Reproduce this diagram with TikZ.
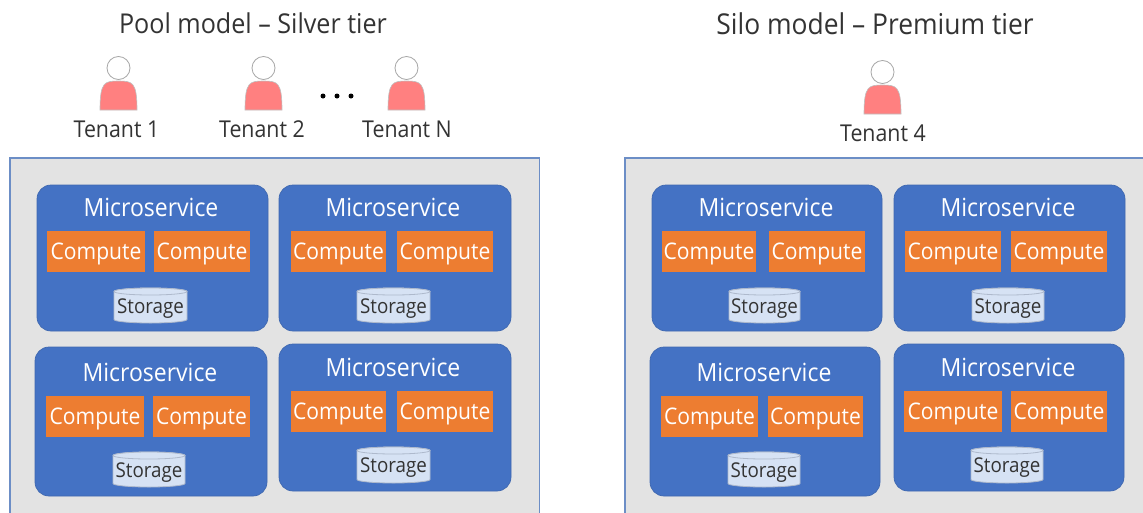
\documentclass[tikz,border=0pt]{standalone}
\usepackage{fontspec}
\setmainfont[FakeStretch=0.92]{Open Sans}
\definecolor{panelfill}{HTML}{E3E3E3}
\definecolor{panelline}{HTML}{6C8EC6}
\definecolor{msblue}{HTML}{4472C4}
\definecolor{msline}{HTML}{3F68B0}
\definecolor{comporange}{HTML}{ED7D31}
\definecolor{storefill}{HTML}{D6E2F4}
\definecolor{storeline}{HTML}{AEB9CC}
\definecolor{bodypink}{HTML}{FF8080}
\definecolor{inkdark}{HTML}{333333}
\tikzset{
  panel/.style={draw=panelline,fill=panelfill,line width=1.2pt},
  msbox/.style={draw=msline,fill=msblue,line width=.7pt,rounded corners=14pt},
  mstitle/.style={text=white,font=\fontsize{25}{28}\selectfont,inner sep=0pt},
  compbox/.style={fill=comporange,text=white,font=\fontsize{22.9}{26}\selectfont,inner sep=0pt},
  storetext/.style={text=inkdark,font=\fontsize{20.4}{23}\selectfont,inner sep=0pt},
  storeshape/.style={draw=storeline,fill=storefill,line width=.8pt},
  headshape/.style={draw=black!35,fill=white,line width=.8pt},
  bodyshape/.style={draw=black!25,fill=bodypink,line width=.6pt},
  tenantlabel/.style={text=inkdark,font=\fontsize{23.2}{26}\selectfont,inner sep=0pt},
  modeltitle/.style={text=inkdark,font=\fontsize{27.3}{31}\selectfont,inner sep=0pt},
  modeltitlewide/.style={text=inkdark,font=\fontsize{28.7}{32}\selectfont,inner sep=0pt},
  dotmark/.style={circle,fill=black,inner sep=0pt,minimum size=5pt}
}
\newcommand{\cmpt}[5]{%
  \pgfmathsetmacro{\myw}{(#4)-(#2)}\pgfmathsetmacro{\myh}{(#5)-(#3)}%
  \pgfmathsetmacro{\cx}{((#2)+(#4))/2}\pgfmathsetmacro{\cy}{((#3)+(#5))/2}%
  \node[compbox,minimum width=\myw pt,minimum height=\myh pt] (#1) at (\cx,\cy) {\raisebox{-8pt}[0pt][0pt]{Compute}};}
\newcommand{\stor}[5]{%
  \pgfmathsetmacro{\rx}{((#4)-(#2))/2}\pgfmathsetmacro{\cx}{((#2)+(#4))/2}\pgfmathsetmacro{\tcy}{(#3)+3.5}\pgfmathsetmacro{\bcy}{(#5)-3.5}\pgfmathsetmacro{\tly}{(#3)/2+(#5)/2+3}%
  \draw[storeshape] (#2,\tcy) -- (#2,\bcy) arc[start angle=180,end angle=360,x radius=\rx,y radius=-3.5] -- (#4,\tcy) arc[start angle=0,end angle=180,x radius=\rx,y radius=-3.5] -- cycle;
  \draw[storeshape] (#2,\tcy) arc[start angle=180,end angle=360,x radius=\rx,y radius=-3.5] arc[start angle=0,end angle=180,x radius=\rx,y radius=-3.5];
  \node[storetext] (#1) at (\cx,\tly) {Storage};}
\newcommand{\ms}[5]{%
  \pgfmathsetmacro{\myw}{(#4)-(#2)}\pgfmathsetmacro{\myh}{(#5)-(#3)}%
  \pgfmathsetmacro{\cx}{((#2)+(#4))/2}\pgfmathsetmacro{\cy}{((#3)+(#5))/2}%
  \node[msbox,minimum width=\myw pt,minimum height=\myh pt,inner sep=0pt] (#1) at (\cx,\cy) {};}
\newcommand{\person}[3]{%
  \pgfmathsetmacro{\ytop}{(#3)+13}\pgfmathsetmacro{\ybot}{(#3)+42}%
  \pgfmathsetmacro{\ycc}{(#3)+14}%
  \pgfmathsetmacro{\xl}{(#2)-18.5}\pgfmathsetmacro{\xr}{(#2)+18.5}%
  \pgfmathsetmacro{\xla}{(#2)-14}\pgfmathsetmacro{\xra}{(#2)+14}%
  \draw[bodyshape] (\xl,\ybot) .. controls (\xl,\ycc) and (\xla,\ytop) .. (#2,\ytop) .. controls (\xra,\ytop) and (\xr,\ycc) .. (\xr,\ybot) -- cycle;
  \node[headshape,circle,minimum size=23pt,inner sep=0pt] (#1) at (#2,#3) {};}
\begin{document}
\begin{tikzpicture}[x=1pt,y=-1pt]
\useasboundingbox (0,0) rectangle (1143,512);
\fill[white] (0,0) rectangle (1143,512);
\draw[panel] (10,158) rectangle (539.5,514);
\draw[panel] (625,158) rectangle (1145,514);
\node[modeltitle] (tl) at (253,23) {Pool model – Silver tier};
\node[modeltitlewide] (tr) at (875,24) {Silo model – Premium tier};
\person{p1}{118.5}{68}
\person{p2}{263.5}{68}
\person{pn}{406.5}{68}
\person{p4}{882.5}{72}
\node[tenantlabel] (l1) at (116.5,129) {Tenant 1};
\node[tenantlabel] (l2) at (262,129) {Tenant 2};
\node[tenantlabel] (ln) at (407,129) {Tenant N};
\node[tenantlabel] (l4) at (883,133) {Tenant 4};
\node[dotmark] (d1) at (323,96) {};
\node[dotmark] (d2) at (337,96) {};
\node[dotmark] (d3) at (351,96) {};
\ms{a}{37}{185}{268}{331}
\node[mstitle] (at) at (151,207) {Microservice};
\cmpt{a1}{47}{231}{145}{272}\cmpt{a2}{154}{231}{250}{272}
\stor{as}{114}{288}{187}{323}
\ms{b}{279}{185}{511}{331}
\node[mstitle] (bt) at (393,207) {Microservice};
\cmpt{b1}{291}{231}{386}{272}\cmpt{b2}{397}{231}{493}{272}
\stor{bs}{357}{288}{430}{323}
\ms{c}{35}{347}{267}{496}
\node[mstitle] (ct) at (150,372) {Microservice};
\cmpt{c1}{46}{396}{144}{437}\cmpt{c2}{153}{396}{250}{437}
\stor{cs}{113}{452}{185}{487}
\ms{d}{279}{344}{511}{491}
\node[mstitle] (dt) at (393,367) {Microservice};
\cmpt{d1c}{291}{391}{386}{432}\cmpt{d2c}{397}{391}{493}{432}
\stor{ds}{357}{447}{430}{483}
\ms{e}{652}{185}{882}{331}
\node[mstitle] (et) at (766,207) {Microservice};
\cmpt{e1}{662}{231}{756}{272}\cmpt{e2}{769}{231}{865}{272}
\stor{es}{729}{288}{800}{323}
\ms{f}{894}{185}{1125}{331}
\node[mstitle] (ft) at (1008,207) {Microservice};
\cmpt{f1}{905}{231}{1001}{272}\cmpt{f2}{1011}{231}{1107}{272}
\stor{fs}{972}{288}{1044}{323}
\ms{g}{650}{347}{880}{496}
\node[mstitle] (gt) at (764,372) {Microservice};
\cmpt{g1}{661}{396}{758}{437}\cmpt{g2}{768}{396}{863}{437}
\stor{gs}{728}{452}{800}{487}
\ms{h}{894}{344}{1124}{491}
\node[mstitle] (ht) at (1008,367) {Microservice};
\cmpt{h1}{904}{391}{1002}{432}\cmpt{h2}{1011}{391}{1107}{432}
\stor{hs}{971}{447}{1043}{483}
\end{tikzpicture}
\end{document}
